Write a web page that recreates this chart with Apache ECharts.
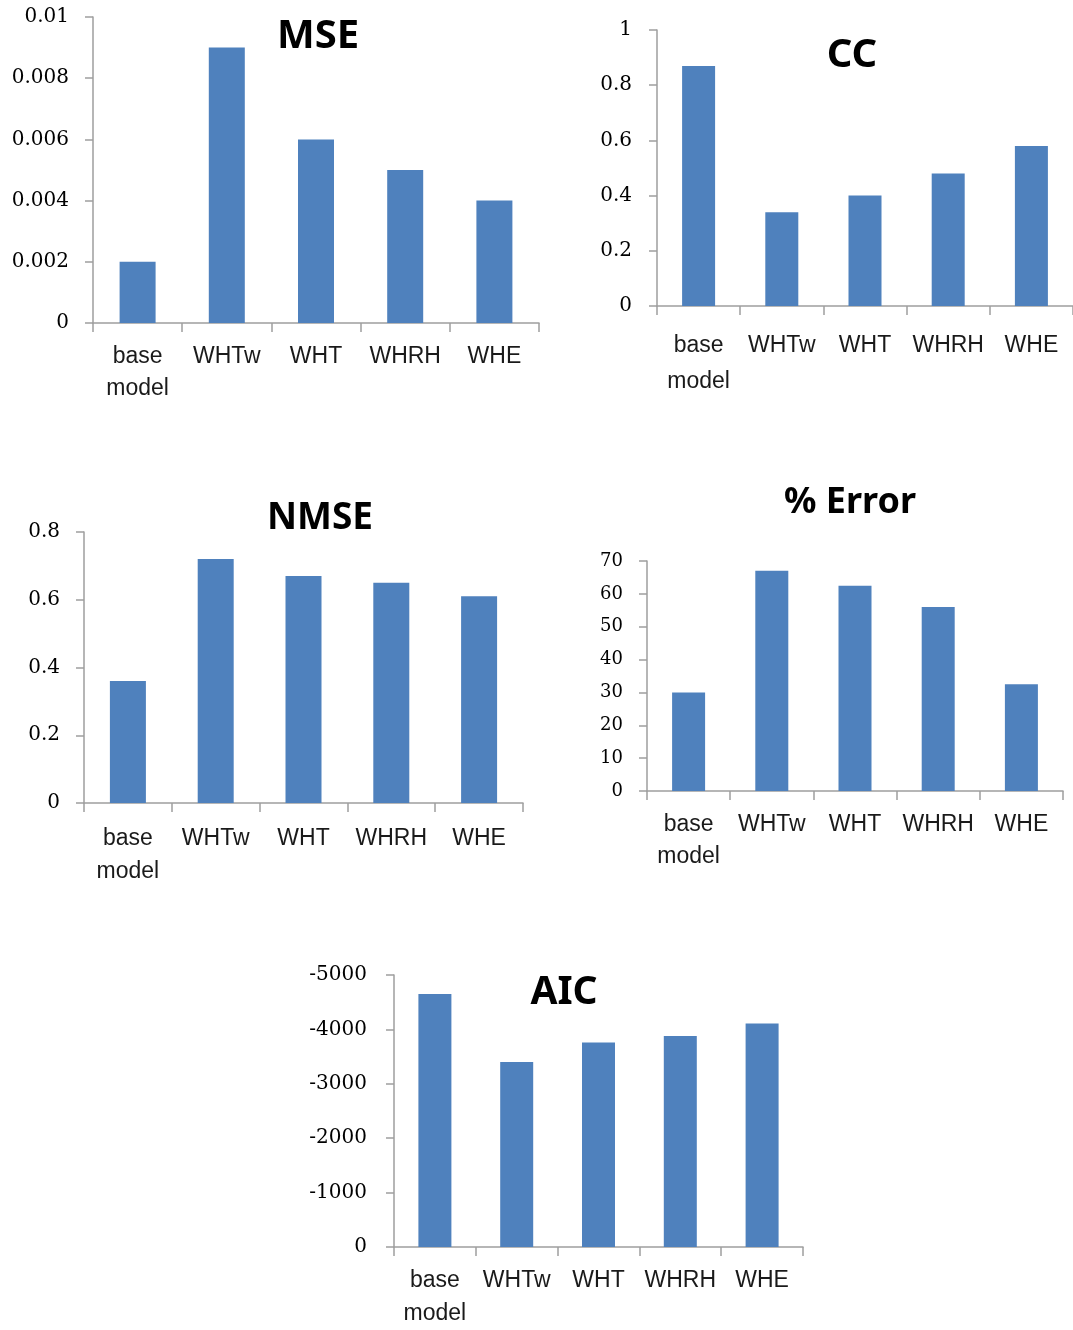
<!DOCTYPE html>
<html>
<head>
<meta charset="utf-8">
<title>Model comparison</title>
<script src="https://cdn.jsdelivr.net/npm/echarts@6/dist/echarts.min.js"></script>
<style>
  html, body { margin: 0; padding: 0; background: #ffffff; }
  #chart { width: 1073px; height: 1330px; }
</style>
</head>
<body>
<div id="chart"></div>
<script>
// Models compared in every panel
const categories = ['base model', 'WHTw', 'WHT', 'WHRH', 'WHE'];

// Metric values per model
const mseValues   = [0.002, 0.009, 0.006, 0.005, 0.004];
const ccValues    = [0.87, 0.34, 0.40, 0.48, 0.58];
const nmseValues  = [0.36, 0.72, 0.67, 0.65, 0.61];
const errorValues = [30, 67, 62.5, 56, 32.5];
const aicValues   = [-4650, -3400, -3760, -3880, -4110];

// Value-axis ranges: [min, max, interval]
const mseRange   = [0, 0.01, 0.002];
const ccRange    = [0, 1, 0.2];
const nmseRange  = [0, 0.8, 0.2];
const errorRange = [0, 70, 10];
const aicRange   = [-5000, 0, 1000];

const BAR = '#4f81bd';
const AXIS = '#9e9e9e';

const panels = [
  { title: 'MSE',     tx: 313, ty: 32,  tsize: 40, grid: { left: 93,  top: 17,  width: 446, height: 306 },
    data: mseValues, range: mseRange, bw: 36, catMargin: 18, catLH: 32, valMargin: 24, valSize: 20 },
  { title: 'CC',      tx: 847, ty: 51,  tsize: 40, grid: { left: 657, top: 30,  width: 423, height: 276 },
    data: ccValues, range: ccRange, bw: 33, catMargin: 22, catLH: 36, valMargin: 25, valSize: 20 },
  { title: 'NMSE',    tx: 315, ty: 513, tsize: 37, grid: { left: 84,  top: 532, width: 439, height: 271 },
    data: nmseValues, range: nmseRange, bw: 36, catMargin: 19, catLH: 33, valMargin: 24, valSize: 20 },
  { title: '% Error', tx: 845, ty: 498, tsize: 36, grid: { left: 647, top: 561, width: 416, height: 230 },
    data: errorValues, range: errorRange, bw: 33, catMargin: 18, catLH: 32, valMargin: 24, valSize: 18 },
  { title: 'AIC',     tx: 559, ty: 988, tsize: 39, grid: { left: 394, top: 975, width: 409, height: 277 },
    data: aicValues, range: aicRange, bw: 33, catMargin: 17, catLH: 33, valMargin: 27, valSize: 20, inverse: true }
];

const option = {
  backgroundColor: '#ffffff',
  animation: false,
  title: panels.map(p => ({
    text: p.title,
    left: p.tx,
    top: p.ty,
    textAlign: 'center',
    textVerticalAlign: 'middle',
    textStyle: { fontFamily: 'Noto Sans', fontWeight: 'bold', fontSize: p.tsize, color: '#000000' }
  })),
  grid: panels.map(p => Object.assign({ containLabel: false }, p.grid)),
  xAxis: panels.map((p, i) => ({
    type: 'category',
    gridIndex: i,
    data: categories,
    axisLine: { show: true, lineStyle: { color: AXIS, width: 1.5 } },
    axisTick: { show: true, length: 9, lineStyle: { color: AXIS, width: 1.5 } },
    axisLabel: {
      margin: p.catMargin,
      interval: 0,
      fontFamily: 'Liberation Sans',
      fontSize: 23,
      lineHeight: p.catLH,
      color: '#1a1a1a',
      formatter: v => v.replace(' ', '\n')
    },
    splitLine: { show: false }
  })),
  yAxis: panels.map((p, i) => ({
    type: 'value',
    gridIndex: i,
    min: p.range[0],
    max: p.range[1],
    interval: p.range[2],
    inverse: !!p.inverse,
    axisLine: { show: true, lineStyle: { color: AXIS, width: 1.5 } },
    axisTick: { show: true, length: 8, lineStyle: { color: AXIS, width: 1.5 } },
    axisLabel: {
      margin: p.valMargin,
      fontFamily: 'DejaVu Serif',
      fontSize: p.valSize,
      color: '#000000',
      formatter: v => String(v)
    },
    splitLine: { show: false }
  })),
  series: panels.map((p, i) => ({
    type: 'bar',
    xAxisIndex: i,
    yAxisIndex: i,
    data: p.data,
    barWidth: p.bw,
    itemStyle: { color: BAR },
    emphasis: { disabled: true }
  }))
};

const chart = echarts.init(document.getElementById('chart'), null, { renderer: 'canvas' });
chart.setOption(option);
</script>
</body>
</html>
